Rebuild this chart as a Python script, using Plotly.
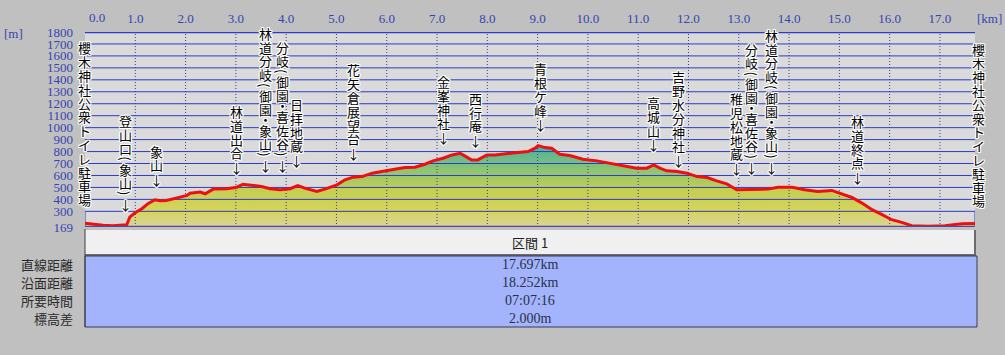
import plotly.graph_objects as go

# ---------------- data ----------------
dist_km = [0.0, 0.10, 0.36, 0.56, 0.83, 0.89, 0.99, 1.13, 1.25, 1.39, 1.49, 1.62, 1.83, 2.03,
           2.09, 2.29, 2.39, 2.55, 2.82, 3.02, 3.14, 3.34, 3.51, 3.68, 3.88, 4.08, 4.23, 4.37,
           4.47, 4.61, 4.77, 5.01, 5.17, 5.33, 5.51, 5.71, 5.90, 6.16, 6.36, 6.56, 6.76, 6.92,
           7.12, 7.30, 7.46, 7.55, 7.69, 7.81, 7.99, 8.15, 8.35, 8.61, 8.81, 8.95, 9.01, 9.15,
           9.28, 9.44, 9.64, 9.90, 10.18, 10.44, 10.70, 10.97, 11.17, 11.31, 11.43, 11.57,
           11.77, 11.97, 12.17, 12.37, 12.56, 12.76, 12.96, 13.16, 13.32, 13.58, 13.78, 14.06,
           14.31, 14.57, 14.85, 15.05, 15.25, 15.45, 15.65, 15.85, 16.04, 16.24, 16.44, 16.76,
           17.10, 17.44, 17.697]
elev_m = [200, 194, 183, 180, 188, 252, 286, 322, 363, 397, 389, 391, 411, 433,
          452, 461, 447, 486, 489, 502, 527, 519, 508, 489, 480, 489, 516, 494,
          480, 466, 486, 522, 564, 586, 591, 619, 633, 655, 667, 669, 694, 722,
          744, 772, 786, 764, 730, 730, 772, 772, 778, 792, 800, 828, 850, 833,
          828, 778, 767, 736, 722, 703, 683, 661, 661, 689, 661, 639,
          633, 619, 591, 583, 555, 530, 480, 480, 480, 486, 502, 502,
          480, 466, 475, 447, 416, 369, 314, 272, 230, 208, 180, 175,
          180, 197, 198]

x_ticks = [1, 2, 3, 4, 5, 6, 7, 8, 9, 10, 11, 12, 13, 14, 15, 16, 17]
x_tick_text = ["1.0", "2.0", "3.0", "4.0", "5.0", "6.0", "7.0", "8.0", "9.0", "10.0",
               "11.0", "12.0", "13.0", "14.0", "15.0", "16.0", "17.0"]
y_ticks = [169, 300, 400, 500, 600, 700, 800, 900, 1000, 1100, 1200, 1300, 1400,
           1500, 1600, 1700, 1800]
y_tick_text = [str(v) for v in y_ticks]

# waypoint labels: km, elevation of arrow tip (or label bottom), name, has arrow
label_km = [0.0, 0.80, 1.43, 3.02, 3.58, 3.92, 4.21, 5.33, 7.12, 7.77, 9.05, 11.31,
            11.81, 12.96, 13.26, 13.66, 15.37, 17.697]
label_tip = [339, 297, 506, 606, 623, 623, 664, 722, 856, 831, 964, 797,
             664, 597, 606, 606, 522, 330]
label_name = ["櫻木神社公衆トイレ駐車場", "登山口（象山）", "象山", "林道出合",
              "林道分岐（御園・象山）", "分岐（御園・喜佐谷）", "日拝地蔵", "花矢倉展望台",
              "金峯神社", "西行庵", "青根ケ峰", "高城山", "吉野水分神社", "稚児松地蔵",
              "分岐（御園・喜佐谷）", "林道分岐（御園・象山）", "林道終点", "櫻木神社公衆トイレ駐車場"]
label_arrow = [False, True, True, True, True, True, True, True, True, True, True, True,
               True, True, True, True, True, False]
label_xshift = [-1, 0, 0, 0, 0, 0, 0, 0, 0, 0, 0, 0, 0, 0, 0, 0, 0, 3]

table_header = "区間 1"
table_rows = ["直線距離", "沿面距離", "所要時間", "標高差"]
table_values = ["17.697km", "18.252km", "07:07:16", "2.000m"]

# ---------------- layout constants ----------------
W, H = 1005, 355
L, R, T, B = 85, 30, 32, 128
PW, PH = W - L - R, H - T - B
X_END = dist_km[-1]


def ppx(px):
    return (px - L) / PW


def ppy(py):
    return (H - B - py) / PH


TICK_BLUE = "#3444b4"
GRID_BLUE = "#2c3cc4"

fig = go.Figure()

# filled terrain with vertical gradient
fig.add_trace(go.Scatter(
    x=dist_km, y=elev_m, mode="lines", line=dict(width=0, color="rgba(0,0,0,0)"),
    fill="tozeroy",
    fillgradient=dict(type="vertical", start=169, stop=860,
                      colorscale=[[0.0, "#d8d49a"], [0.2, "#d6d45a"], [0.45, "#c4ce52"],
                                  [0.7, "#8cc474"], [1.0, "#40b0a4"]]),
    hoverinfo="skip", showlegend=False))

# horizontal grid lines (over fill)
gx, gy = [], []
for v in y_ticks[1:-1]:
    gx += [0, X_END, None]
    gy += [v, v, None]
fig.add_trace(go.Scatter(x=gx, y=gy, mode="lines", line=dict(color=GRID_BLUE, width=1),
                         hoverinfo="skip", showlegend=False))

# vertical dotted grid lines
vx, vy = [], []
for k in x_ticks:
    vx += [k, k, None]
    vy += [y_ticks[0], y_ticks[-1], None]
fig.add_trace(go.Scatter(x=vx, y=vy, mode="lines",
                         line=dict(color="#3a3a90", width=1, dash="1px,2px"),
                         hoverinfo="skip", showlegend=False))

# end verticals near the bottom
fig.add_trace(go.Scatter(x=[0, 0, None, X_END, X_END], y=[169, 300, None, 169, 300],
                         mode="lines", line=dict(color=GRID_BLUE, width=1),
                         hoverinfo="skip", showlegend=False))

# elevation line
fig.add_trace(go.Scatter(x=dist_km, y=elev_m, mode="lines",
                         line=dict(color="#ee1010", width=3),
                         hoverinfo="skip", showlegend=False))

shapes = []
shapes.append(dict(type="line", xref="x", yref="y", x0=0, x1=X_END, y0=1800, y1=1800,
                   line=dict(color=GRID_BLUE, width=2.5), layer="above"))
shapes.append(dict(type="line", xref="x", yref="y", x0=0, x1=X_END, y0=169, y1=169,
                   line=dict(color="#5048a4", width=2.5), layer="above"))

# table
shapes.append(dict(type="rect", xref="paper", yref="paper", x0=ppx(85), x1=ppx(975),
                   y0=ppy(255), y1=ppy(230), fillcolor="#f0f0f0", line=dict(width=0)))
shapes.append(dict(type="line", xref="paper", yref="paper", x0=ppx(85), x1=ppx(976),
                   y0=ppy(255), y1=ppy(255), line=dict(color="#6c6c6c", width=2)))
shapes.append(dict(type="line", xref="paper", yref="paper", x0=ppx(975), x1=ppx(975),
                   y0=ppy(230), y1=ppy(255), line=dict(color="#6c6c6c", width=2)))
shapes.append(dict(type="rect", xref="paper", yref="paper", x0=ppx(85), x1=ppx(977),
                   y0=ppy(327), y1=ppy(256), fillcolor="#a4b4fc",
                   line=dict(color="#383858", width=1)))
shapes.append(dict(type="line", xref="paper", yref="paper", x0=ppx(85), x1=ppx(85),
                   y0=ppy(229), y1=ppy(327), line=dict(color="#404040", width=1)))

annotations = []
serif_blue = dict(family="Liberation Serif", size=13, color=TICK_BLUE)
annotations.append(dict(x=ppx(97), y=ppy(17), xref="paper", yref="paper", text="0.0",
                        xanchor="center", yanchor="middle", showarrow=False, font=serif_blue))
annotations.append(dict(x=ppx(989), y=ppy(18), xref="paper", yref="paper", text="[km]",
                        xanchor="center", yanchor="middle", showarrow=False, font=serif_blue))
annotations.append(dict(x=ppx(2), y=ppy(33), xref="paper", yref="paper", text="[m]",
                        xanchor="left", yanchor="middle", showarrow=False, font=serif_blue))

# waypoint labels, stacked vertically one glyph at a time
HALO = ("1px 0 0 #fff, -1px 0 0 #fff, 0 1px 0 #fff, 0 -1px 0 #fff, "
        "1px 1px 0 #fff, -1px -1px 0 #fff, 1px -1px 0 #fff, -1px 1px 0 #fff")


def pitch(ch):
    if ch in "（）・":
        return 7.0
    if ch == "↓":
        return 15.0
    return 13.8


for km, tip, name, arrow, xs in zip(label_km, label_tip, label_name, label_arrow,
                                    label_xshift):
    chars = list(name) + (["↓"] if arrow else [])
    off = 0.0
    for ch in reversed(chars):
        h = pitch(ch)
        center = off + h / 2
        off += h
        angle = 0
        txt = ch
        if ch == "（":
            txt, angle = "(", 90
        elif ch == "）":
            txt, angle = ")", 90
        annotations.append(dict(
            x=km, y=tip, xref="x", yref="y", text=txt, textangle=angle,
            showarrow=False, xanchor="center", yanchor="middle", yshift=center, xshift=xs,
            font=dict(family="Noto Sans CJK JP", size=13, color="#000000", shadow=HALO)))

# table texts
annotations.append(dict(x=ppx(530), y=ppy(242), xref="paper", yref="paper",
                        text=table_header, showarrow=False, xanchor="center",
                        yanchor="middle",
                        font=dict(family="Noto Sans CJK JP", size=13, color="#202020")))
row_y = [264, 282, 300, 318]
for ry, name, val in zip(row_y, table_rows, table_values):
    annotations.append(dict(x=ppx(75), y=ppy(ry), xref="paper", yref="paper", text=name,
                            xanchor="right", yanchor="middle", showarrow=False,
                            font=dict(family="Noto Sans CJK JP", size=13, color="#2a2a2a")))
    annotations.append(dict(x=ppx(530), y=ppy(ry), xref="paper", yref="paper", text=val,
                            xanchor="center", yanchor="middle", showarrow=False,
                            font=dict(family="Liberation Serif", size=14, color="#283048")))

fig.update_layout(
    width=W, height=H, margin=dict(l=L, r=R, t=T, b=B, pad=0),
    paper_bgcolor="#c0c0c0", plot_bgcolor="#dadada",
    showlegend=False, shapes=shapes, annotations=annotations,
    xaxis=dict(range=[0, X_END], side="top", tickvals=x_ticks, ticktext=x_tick_text,
               showgrid=False, zeroline=False, showline=False, ticks="",
               ticklabelstandoff=5, tickfont=serif_blue, fixedrange=True),
    yaxis=dict(range=[169, 1800], tickvals=y_ticks, ticktext=y_tick_text,
               showgrid=False, zeroline=False, showline=False, ticks="",
               ticklabelstandoff=11, tickfont=serif_blue, fixedrange=True),
)

fig.write_html("out.html")
